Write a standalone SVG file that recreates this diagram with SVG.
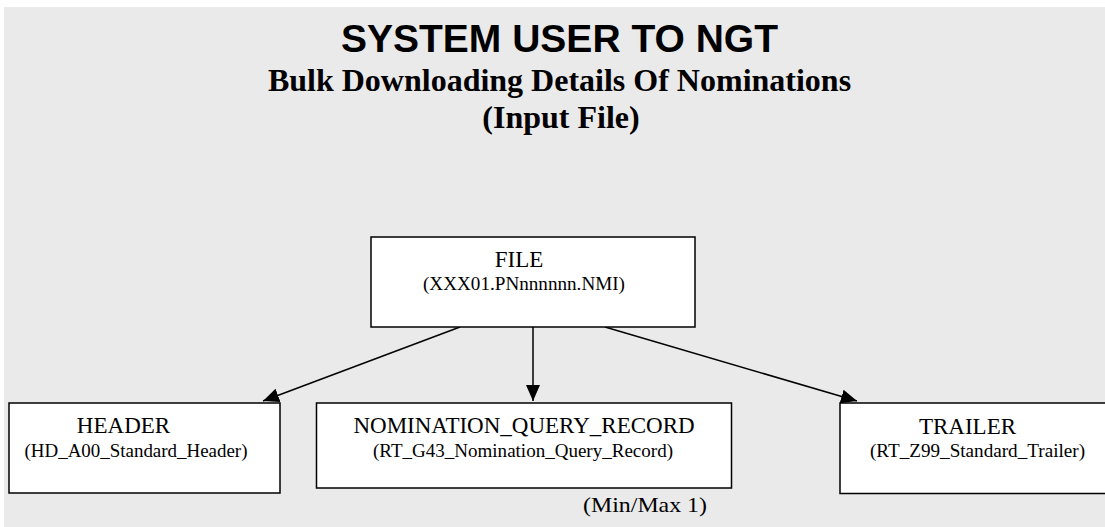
<svg xmlns="http://www.w3.org/2000/svg" width="1105" height="527" viewBox="0 0 1105 527">
<defs>
<style>
.bg{fill:#eaeaea}
.box{fill:#ffffff;stroke:#000000;stroke-width:1.5}
.conn{stroke:#000000;stroke-width:1.5;fill:none}
.h1{font-family:"Liberation Sans",Arial,sans-serif;font-weight:bold;font-size:39px;fill:#000;text-anchor:middle}
.h2{font-family:"Liberation Serif","Times New Roman",serif;font-weight:bold;font-size:32px;fill:#000;text-anchor:middle}
.lbl{font-family:"Liberation Serif","Times New Roman",serif;font-size:23px;fill:#000;text-anchor:middle}
.sub{font-family:"Liberation Serif","Times New Roman",serif;font-size:19px;fill:#000;text-anchor:middle}
.note{font-family:"Liberation Serif","Times New Roman",serif;font-size:22px;fill:#000;text-anchor:middle}
</style>
<marker id="arrow" markerUnits="userSpaceOnUse" markerWidth="17" markerHeight="15" refX="16" refY="7" orient="auto">
<path d="M0,0 L16,7 L0,14 z" fill="#000"/>
</marker>
</defs>
<rect class="bg" x="4" y="7" width="1101" height="520"/>
<g id="title">
<text class="h1" x="559.5" y="52">SYSTEM USER TO NGT</text>
<text class="h2" x="559.5" y="91">Bulk Downloading Details Of Nominations</text>
<text class="h2" x="561" y="128">(Input File)</text>
</g>
<g id="connectors">
<line class="conn" x1="460" y1="327" x2="263" y2="401" marker-end="url(#arrow)"/>
<line class="conn" x1="533" y1="327" x2="533" y2="401" marker-end="url(#arrow)"/>
<line class="conn" x1="605" y1="327" x2="857" y2="401" marker-end="url(#arrow)"/>
</g>
<g id="file">
<rect class="box" x="371" y="237" width="324" height="90"/>
<text class="lbl" x="519" y="267">FILE</text>
<text class="sub" x="524" y="290" textLength="202" lengthAdjust="spacingAndGlyphs">(XXX01.PNnnnnnn.NMI)</text>
</g>
<g id="header">
<rect class="box" x="9" y="403" width="271" height="90"/>
<text class="lbl" x="123.5" y="433">HEADER</text>
<text class="sub" x="136" y="457" textLength="223" lengthAdjust="spacingAndGlyphs">(HD_A00_Standard_Header)</text>
</g>
<g id="nomination">
<rect class="box" x="316.5" y="403" width="415" height="85"/>
<text class="lbl" x="524" y="433">NOMINATION_QUERY_RECORD</text>
<text class="sub" x="523" y="457" textLength="300" lengthAdjust="spacingAndGlyphs">(RT_G43_Nomination_Query_Record)</text>
</g>
<g id="trailer">
<rect class="box" x="840" y="403" width="270" height="90.5"/>
<text class="lbl" x="967.5" y="434">TRAILER</text>
<text class="sub" x="977.5" y="457" textLength="215" lengthAdjust="spacingAndGlyphs">(RT_Z99_Standard_Trailer)</text>
</g>
<g id="note">
<text class="note" x="645" y="512" textLength="124" lengthAdjust="spacingAndGlyphs">(Min/Max 1)</text>
</g>
</svg>
